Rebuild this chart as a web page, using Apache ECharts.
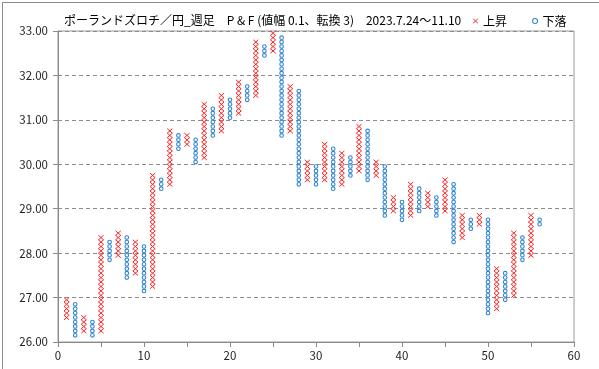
<!DOCTYPE html>
<html>
<head>
<meta charset="utf-8">
<script src="https://cdn.jsdelivr.net/npm/echarts@6/dist/echarts.min.js"></script>
<style>
html,body{margin:0;padding:0;background:#fff;}
#main{width:599px;height:369px;}
</style>
</head>
<body>
<div id="main"></div>
<script>
// Box size of the Point & Figure chart
const BOX = 0.1;

// Rising (X) columns: column number, bottom and top of the column
const upCols  = [1, 3, 5, 7, 9, 11, 13, 15, 17, 19, 21, 23, 25, 27, 29, 31, 33, 35, 37, 39, 41, 43, 45, 47, 49, 51, 53, 55];
const upLow   = [26.5, 26.2, 26.2, 27.9, 27.5, 27.2, 29.5, 30.4, 30.1, 30.7, 31.1, 31.5, 32.5, 30.7, 29.6, 29.6, 29.5, 29.8, 29.7, 28.9, 28.8, 29.0, 28.9, 28.3, 28.6, 26.7, 27.0, 27.9];
const upHigh  = [27.0, 26.6, 28.4, 28.5, 28.3, 29.8, 30.8, 30.7, 31.4, 31.6, 31.9, 32.8, 33.0, 31.8, 30.1, 30.5, 30.3, 30.9, 30.1, 29.3, 29.6, 29.4, 29.7, 28.9, 28.9, 27.7, 28.5, 28.9];

// Falling (O) columns
const downCols = [2, 4, 6, 8, 10, 12, 14, 16, 18, 20, 22, 24, 26, 28, 30, 32, 34, 36, 38, 40, 42, 44, 46, 48, 50, 52, 54, 56];
const downLow  = [26.1, 26.1, 27.8, 27.4, 27.1, 29.4, 30.3, 30.0, 30.6, 31.0, 31.4, 32.4, 30.6, 29.5, 29.5, 29.4, 29.7, 29.6, 28.8, 28.7, 28.9, 28.8, 28.2, 28.5, 26.6, 26.9, 27.8, 28.6];
const downHigh = [26.9, 26.5, 28.3, 28.4, 28.2, 29.7, 30.7, 30.6, 31.3, 31.5, 31.8, 32.7, 32.9, 31.7, 30.0, 30.4, 30.2, 30.8, 30.0, 29.2, 29.5, 29.3, 29.6, 28.8, 28.8, 27.6, 28.4, 28.8];

// Axis ticks
const yTicks = [26, 27, 28, 29, 30, 31, 32, 33];
const xTickLabels = [0, 10, 20, 30, 40, 50, 60];

const titleText = 'ポーランドズロチ／円_週足　P & F (値幅 0.1、転換 3)　2023.7.24～11.10';
const seriesNames = ['上昇', '下落'];

const RED = '#ff2020';
const BLUE = '#2f86d3';
const FONT = '"Noto Sans CJK JP", "Noto Sans", sans-serif';

function makeRender(kind) {
  return function (params, api) {
    const col = api.value(0), lo = api.value(1), hi = api.value(2);
    const n = Math.round((hi - lo) / BOX);
    const children = [];
    for (let k = 0; k < n; k++) {
      const p = api.coord([col, lo + BOX * (k + 0.5)]);
      if (kind === 'X') {
        const hw = 2.6, hh = 2.3;
        children.push({type: 'line', shape: {x1: p[0] - hw, y1: p[1] - hh, x2: p[0] + hw, y2: p[1] + hh},
          style: {stroke: RED, lineWidth: 1}});
        children.push({type: 'line', shape: {x1: p[0] + hw, y1: p[1] - hh, x2: p[0] - hw, y2: p[1] + hh},
          style: {stroke: RED, lineWidth: 1}});
      } else {
        children.push({type: 'circle', shape: {cx: p[0], cy: p[1], r: 1.8},
          style: {fill: '#ffffff', stroke: BLUE, lineWidth: 1.1}});
      }
    }
    return {type: 'group', children: children};
  };
}

const upData = upCols.map((c, i) => [c, upLow[i], upHigh[i]]);
const downData = downCols.map((c, i) => [c, downLow[i], downHigh[i]]);

const chart = echarts.init(document.getElementById('main'), null, {renderer: 'canvas'});
chart.setOption({
  animation: false,
  backgroundColor: '#ffffff',
  textStyle: {fontFamily: FONT},
  graphic: [{
    type: 'rect', left: 0, top: 0, z: 100, silent: true,
    shape: {x: 0.5, y: 0.5, width: 598, height: 368},
    style: {fill: 'none', stroke: '#8a8a8a', lineWidth: 1}
  }],
  title: {
    text: titleText, left: 59, top: 9,
    textStyle: {fontSize: 12, fontWeight: 'normal', color: '#000', fontFamily: FONT}
  },
  legend: {
    left: 468, top: 10, itemWidth: 5, itemHeight: 5, itemGap: 25,
    textStyle: {fontSize: 12, color: '#000', fontFamily: FONT, padding: [0, 0, 0, 0]},
    data: [
      {name: seriesNames[0], icon: 'path://M0,1L1,0L5,4L9,0L10,1L6,5L10,9L9,10L5,6L1,10L0,9L4,5Z', itemStyle: {color: RED}},
      {name: seriesNames[1], icon: 'circle', itemStyle: {color: '#fff', borderColor: BLUE, borderWidth: 1.1}}
    ]
  },
  grid: {left: 58, right: 25, top: 31, bottom: 27, show: true, borderColor: '#9a9a9a', borderWidth: 1},
  xAxis: {
    type: 'value', min: 0, max: 60, interval: 5,
    axisLine: {show: true, lineStyle: {color: '#8a8a8a'}},
    axisTick: {show: true, length: 5, lineStyle: {color: '#8a8a8a'}},
    axisLabel: {
      margin: 8, fontSize: 11.5, color: '#222', fontFamily: FONT,
      formatter: v => (xTickLabels.indexOf(v) >= 0 ? String(v) : '')
    },
    splitLine: {show: false}
  },
  yAxis: {
    type: 'value', min: yTicks[0], max: yTicks[yTicks.length - 1], interval: 1,
    axisLine: {show: true, lineStyle: {color: '#8a8a8a'}},
    axisTick: {show: true, length: 5, lineStyle: {color: '#8a8a8a'}},
    axisLabel: {margin: 10, fontSize: 11.5, color: '#222', fontFamily: FONT, formatter: v => v.toFixed(2)},
    splitLine: {show: true, lineStyle: {color: '#8c8c8c', type: [4, 3], width: 1}}
  },
  series: [
    {name: seriesNames[0], type: 'custom', renderItem: makeRender('X'), data: upData,
      itemStyle: {color: RED}, encode: {x: 0, y: [1, 2]}, clip: false},
    {name: seriesNames[1], type: 'custom', renderItem: makeRender('O'), data: downData,
      itemStyle: {color: BLUE}, encode: {x: 0, y: [1, 2]}, clip: false}
  ]
});
</script>
</body>
</html>
